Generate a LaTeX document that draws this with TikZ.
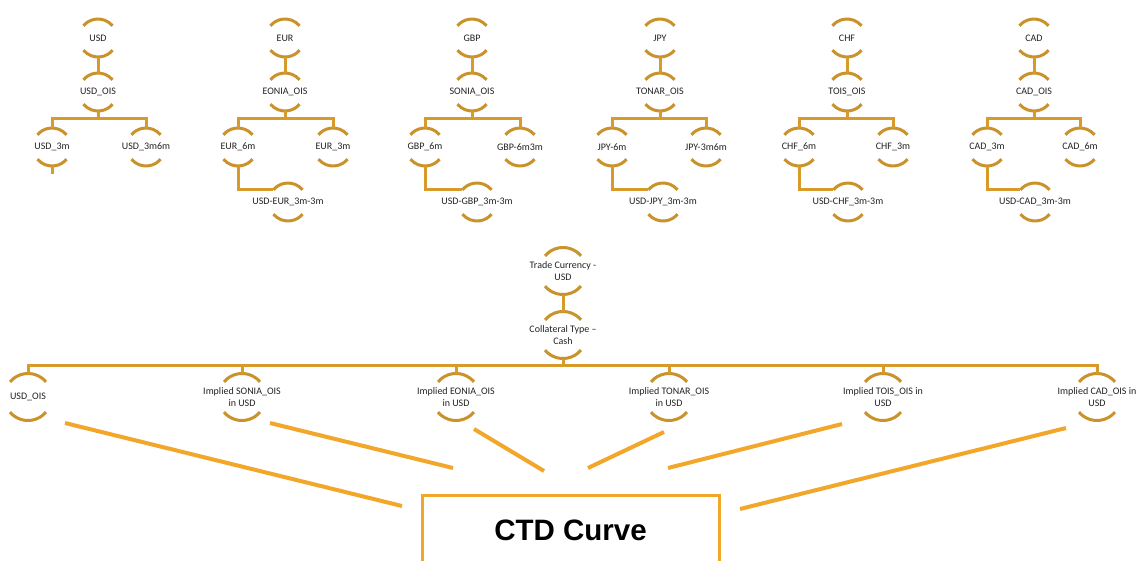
\documentclass[tikz,border=0pt]{standalone}
\usepackage{fontspec}
\setmainfont{Carlito}
\newfontfamily\ctdfont{Liberation Sans}
\usetikzlibrary{calc}
\definecolor{arcgold}{RGB}{201,146,42}
\definecolor{linkgold}{RGB}{216,154,42}
\definecolor{rayorange}{RGB}{242,166,42}
\definecolor{labelgray}{RGB}{34,34,34}
\begin{document}
\begin{tikzpicture}[x=1pt,y=-1pt,
  smallnode/.style={circle,minimum size=38pt,inner sep=0pt,outer sep=0pt,label={[lbl]center:{#1}}},
  bignode/.style={circle,minimum size=47pt,inner sep=0pt,outer sep=0pt,label={[lbl]center:{#1}}},
  lbl/.style={font=\fontsize{10}{11.5}\selectfont,text=labelgray,align=center,inner sep=0pt},
  ring/.style={draw=arcgold,line width=3pt},
  link/.style={draw=linkgold,line width=3pt},
  ray/.style={draw=rayorange,line width=4pt},
  ctdbox/.style={draw=rayorange,line width=3pt,fill=white,minimum width=297pt,minimum height=70pt,
    font=\ctdfont\bfseries\fontsize{29.5}{30}\selectfont,text=black},
]
\path[use as bounding box] (0,0) rectangle (1136,560);
\clip (0,0) rectangle (1136,560);

% ---- currency trees ----
\node[smallnode={USD}] (usd) at (98,38) {};
\node[smallnode={USD\_OIS}] (usdois) at (98,92) {};
\node[smallnode={USD\_3m}] (usd3m) at (52,147) {};
\node[smallnode={USD\_3m6m}] (usd3m6m) at (146,147) {};

\node[smallnode={EUR}] (eur) at (285,38) {};
\node[smallnode={EONIA\_OIS}] (eoniaois) at (285,92) {};
\node[smallnode={EUR\_6m}] (eur6m) at (238,147) {};
\node[smallnode={EUR\_3m}] (eur3m) at (333,147) {};
\node[smallnode={USD-EUR\_3m-3m}] (usdeur) at (288,202) {};

\node[smallnode={GBP}] (gbp) at (472,38) {};
\node[smallnode={SONIA\_OIS}] (soniaois) at (472,92) {};
\node[smallnode={GBP\_6m}] (gbp6m) at (425,147) {};
\node[smallnode={GBP-6m3m}] (gbp6m3m) at (520,147) {};
\node[smallnode={USD-GBP\_3m-3m}] (usdgbp) at (477,202) {};

\node[smallnode={JPY}] (jpy) at (660,38) {};
\node[smallnode={TONAR\_OIS}] (tonarois) at (660,92) {};
\node[smallnode={JPY-6m}] (jpy6m) at (612,147) {};
\node[smallnode={JPY-3m6m}] (jpy3m6m) at (706,147) {};
\node[smallnode={USD-JPY\_3m-3m}] (usdjpy) at (663,202) {};

\node[smallnode={CHF}] (chf) at (847,38) {};
\node[smallnode={TOIS\_OIS}] (toisois) at (847,92) {};
\node[smallnode={CHF\_6m}] (chf6m) at (799,147) {};
\node[smallnode={CHF\_3m}] (chf3m) at (893,147) {};
\node[smallnode={USD-CHF\_3m-3m}] (usdchf) at (848,202) {};

\node[smallnode={CAD}] (cad) at (1034,38) {};
\node[smallnode={CAD\_OIS}] (cadois) at (1034,92) {};
\node[smallnode={CAD\_3m}] (cad3m) at (987,147) {};
\node[smallnode={CAD\_6m}] (cad6m) at (1080,147) {};
\node[smallnode={USD-CAD\_3m-3m}] (usdcad) at (1035,202) {};

\foreach \n in {usd,usdois,usd3m,usd3m6m,eur,eoniaois,eur6m,eur3m,usdeur,
                gbp,soniaois,gbp6m,gbp6m3m,usdgbp,jpy,tonarois,jpy6m,jpy3m6m,usdjpy,
                chf,toisois,chf6m,chf3m,usdchf,cad,cadois,cad3m,cad6m,usdcad}
  \draw[ring] (\n.40) arc[start angle=40,end angle=140,radius=19pt]
              (\n.220) arc[start angle=220,end angle=320,radius=19pt];

% parent -> rate node -> two curves
\foreach \top/\mid/\lft/\rgt/\bx in {usd/usdois/usd3m/usd3m6m/98,
    eur/eoniaois/eur6m/eur3m/285, gbp/soniaois/gbp6m/gbp6m3m/472,
    jpy/tonarois/jpy6m/jpy3m6m/660, chf/toisois/chf6m/chf3m/847,
    cad/cadois/cad3m/cad6m/1034}{
  \draw[link] (\top.south) -- (\mid.north);
  \coordinate (bar-\mid) at (\bx,118);
  \draw[link] (\mid.south) -- (bar-\mid);
  \draw[link] (\lft.north) |- (bar-\mid) -| (\rgt.north);
}
\coordinate (usdstub) at (52,174);
\draw[link] (usd3m.south) -- (usdstub);
\foreach \a/\b in {eur6m/usdeur,gbp6m/usdgbp,jpy6m/usdjpy,chf6m/usdchf,cad3m/usdcad}
  \draw[link] (\a.south) |- (\b.140);

% ---- trade tree ----
\node[bignode={Trade Currency -\\USD}] (trade) at (563,271) {};
\node[bignode={Collateral Type --\\Cash}] (coll) at (563,335) {};
\node[bignode={USD\_OIS}] (impusd) at (28,397) {};
\node[bignode={Implied SONIA\_OIS\\in USD}] (impsonia) at (242,397) {};
\node[bignode={Implied EONIA\_OIS\\in USD}] (impeonia) at (456,397) {};
\node[bignode={Implied TONAR\_OIS\\in USD}] (imptonar) at (669,397) {};
\node[bignode={Implied TOIS\_OIS in\\USD}] (imptois) at (883,397) {};
\node[bignode={Implied CAD\_OIS in\\USD}] (impcad) at (1097,397) {};

\foreach \n in {trade,coll,impusd,impsonia,impeonia,imptonar,imptois,impcad}
  \draw[ring] (\n.40) arc[start angle=40,end angle=140,radius=23.5pt]
              (\n.220) arc[start angle=220,end angle=320,radius=23.5pt];

\draw[link] (trade.south) -- (coll.north);
\coordinate (hub) at (563,365);
\draw[link] (coll.south) -- (hub);
\draw[link] (impusd.north) |- (hub) -| (impcad.north);
\foreach \n in {impsonia,impeonia,imptonar,imptois}
  \draw[link] (\n.north) -- (\n.north |- hub);

% ---- CTD curve and feeding rays ----
\node[ctdbox] (ctd) at (570.5,530) {CTD Curve};

\coordinate (r1a) at (65,423);   \coordinate (r1b) at (402,506);
\coordinate (r2a) at (270,423);  \coordinate (r2b) at (453,468);
\coordinate (r3a) at (474,429);  \coordinate (r3b) at (544,471);
\coordinate (r4a) at (664,432);  \coordinate (r4b) at (588,468);
\coordinate (r5a) at (842,424);  \coordinate (r5b) at (668,468);
\coordinate (r6a) at (1066,428); \coordinate (r6b) at (740,509);
\foreach \i in {1,...,6}
  \draw[ray] (r\i a) -- (r\i b);
\end{tikzpicture}
\end{document}
